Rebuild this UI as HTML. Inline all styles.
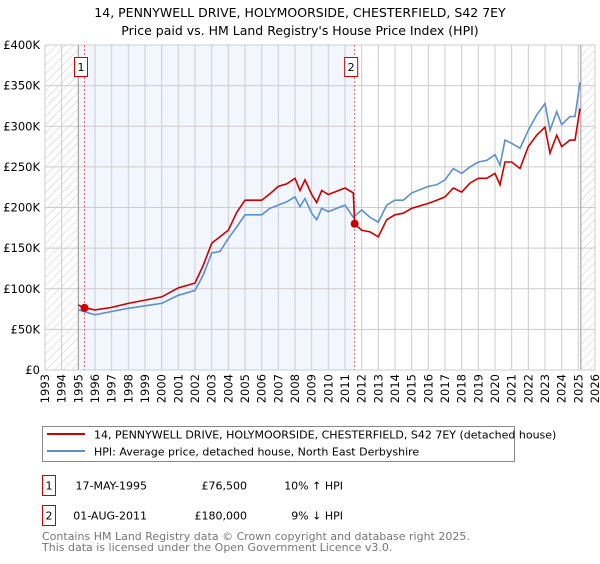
<!DOCTYPE html>
<html><head><meta charset="utf-8"><style>
body{margin:0;background:#fff;font-family:"DejaVu Sans","Liberation Sans",sans-serif;}
svg text{font-family:"DejaVu Sans","Liberation Sans",sans-serif;}
</style></head><body>
<svg id="chart" width="600" height="560" xmlns="http://www.w3.org/2000/svg">
<defs><pattern id="hatch" width="6" height="6" patternUnits="userSpaceOnUse" patternTransform="rotate(45)"><line x1="0" y1="0" x2="0" y2="6" stroke="#ccc" stroke-width="1"/></pattern></defs>
<text x="300" y="17" text-anchor="middle" font-size="12.5" fill="#000">14, PENNYWELL DRIVE, HOLYMOORSIDE, CHESTERFIELD, S42 7EY</text>
<text x="300" y="35" text-anchor="middle" font-size="12.5" fill="#000">Price paid vs. HM Land Registry's House Price Index (HPI)</text>
<g id="plot"></g>
<g>
<rect x="42.5" y="426.5" width="472" height="35" fill="#fff" stroke="#888"/>
<line x1="47" y1="434" x2="85" y2="434" stroke="#cc0000" stroke-width="2"/>
<text x="94" y="438.5" font-size="11">14, PENNYWELL DRIVE, HOLYMOORSIDE, CHESTERFIELD, S42 7EY (detached house)</text>
<line x1="47" y1="451" x2="85" y2="451" stroke="#5b8fd0" stroke-width="2"/>
<text x="94" y="455.5" font-size="11">HPI: Average price, detached house, North East Derbyshire</text>
</g>
<g font-size="11">
<rect x="42.5" y="475.5" width="13" height="20" fill="#fff" stroke="#cc0000"/>
<text x="49" y="489.5" text-anchor="middle">1</text>
<text x="147" y="489.5" text-anchor="end">17-MAY-1995</text>
<text x="247" y="489.5" text-anchor="end">£76,500</text>
<text x="343" y="489.5" text-anchor="end">10% ↑ HPI</text>
<rect x="42.5" y="505.5" width="13" height="20" fill="#fff" stroke="#cc0000"/>
<text x="49" y="519.5" text-anchor="middle">2</text>
<text x="147" y="519.5" text-anchor="end">01-AUG-2011</text>
<text x="247" y="519.5" text-anchor="end">£180,000</text>
<text x="343" y="519.5" text-anchor="end">9% ↓ HPI</text>
</g>
<text x="42" y="540" font-size="11" fill="#777">Contains HM Land Registry data © Crown copyright and database right 2025.</text>
<text x="42" y="551" font-size="11" fill="#777">This data is licensed under the Open Government Licence v3.0.</text>
</svg>
<script>
const hpiYears=[1995,1996,1997,1998,1999,2000,2001,2002,2002.5,2003,2003.5,2004,2004.5,2005,2006,2006.5,2007,2007.5,2008,2008.3,2008.6,2009,2009.3,2009.6,2010,2011,2011.5,2012,2012.5,2013,2013.5,2014,2014.5,2015,2016,2016.5,2017,2017.5,2018,2018.5,2019,2019.5,2020,2020.3,2020.6,2021,2021.5,2022,2022.5,2023,2023.3,2023.7,2024,2024.5,2024.8,2025.1];
const hpiValues=[74,68,72,76,79,82,92,98,117,144,146,162,176,191,191,199,203,207,213,201,211,193,185,199,195,203,188,197,188,182,203,209,209,218,226,228,234,248,242,250,256,258,265,252,283,279,273,295,314,328,295,318,302,312,312,354];
const propYears=[1995,1995.37,1996,1997,1998,1999,2000,2001,2002,2002.5,2003,2003.5,2004,2004.5,2005,2006,2006.5,2007,2007.5,2008,2008.3,2008.6,2009,2009.3,2009.6,2010,2011,2011.5,2011.58,2012,2012.5,2013,2013.5,2014,2014.5,2015,2016,2016.5,2017,2017.5,2018,2018.5,2019,2019.5,2020,2020.3,2020.6,2021,2021.5,2022,2022.5,2023,2023.3,2023.7,2024,2024.5,2024.8,2025.1];
const propValues=[80,76.5,74,77,82,86,90,101,107,129,156,164,172,194,209,209,217,226,229,236,221,234,216,206,221,216,224,218,180,172,170,164,185,191,193,199,205,209,213,224,219,230,236,236,242,228,256,256,248,275,289,299,267,289,275,283,283,322];
const yTicks=[0,50,100,150,200,250,300,350,400];
const xTicks=[1993,1994,1995,1996,1997,1998,1999,2000,2001,2002,2003,2004,2005,2006,2007,2008,2009,2010,2011,2012,2013,2014,2015,2016,2017,2018,2019,2020,2021,2022,2023,2024,2025,2026];
const sales=[{label:"1",year:1995.37,value:76.5},{label:"2",year:2011.58,value:180}];
const X0=45,X1=595,Y0=370,Y1=45;
const xs=y=>X0+(y-1993)/(2026-1993)*(X1-X0);
const ys=v=>Y0-v/400*(Y0-Y1);
const NS="http://www.w3.org/2000/svg";
const g=document.getElementById('plot');
function mk(t,a,p){const e=document.createElementNS(NS,t);for(const k in a)e.setAttribute(k,a[k]);(p||g).appendChild(e);return e;}
const bg=mk('rect',{x:X0,y:Y1,width:X1-X0,height:Y0-Y1,fill:'#fff'});


const sh=mk('rect',{x:xs(1995),y:Y1,width:xs(2011.58)-xs(1995),height:Y0-Y1,fill:'#f2f6fe'});


const h1=mk('rect',{x:X0,y:Y1,width:xs(1995)-X0,height:Y0-Y1,fill:'url(#hatch)'});


const h2=mk('rect',{x:xs(2025.15),y:Y1,width:X1-xs(2025.15),height:Y0-Y1,fill:'url(#hatch)'});


yTicks.forEach(v=>{
 const l=mk('line',{x1:X0,x2:X1,y1:ys(v),y2:ys(v),stroke:'#ccc','stroke-width':1});
 
 
 const t=mk('text',{x:40,y:ys(v)+4,'text-anchor':'end','font-size':11.5});
 t.textContent=v===0?'£0':'£'+v+'K';
 
 
});
xTicks.forEach(yr=>{
 const l=mk('line',{x1:xs(yr),x2:xs(yr),y1:Y1,y2:Y0,stroke:'#ccc','stroke-width':1});
 
 
 const tx=xs(yr)+4, ty=374;
 const t=mk('text',{x:tx,y:ty,'text-anchor':'end','font-size':11.5,transform:'rotate(-90 '+tx+' '+ty+')'});
 t.textContent=yr;
 
 
});
[xs(1995),xs(2025.15)].forEach(x=>{const l=mk('line',{x1:x,x2:x,y1:Y1,y2:Y0,stroke:'#999','stroke-width':1});
 
 });
const fr=mk('rect',{x:X0,y:Y1,width:X1-X0,height:Y0-Y1,fill:'none',stroke:'#ccc'});


sales.forEach(s=>{
 const l=mk('line',{x1:xs(s.year),x2:xs(s.year),y1:Y1,y2:Y0,stroke:'#f06060','stroke-dasharray':'2,2','stroke-width':1});
 
 
 const r=mk('rect',{x:xs(s.year)-10,y:57.5,width:13,height:19,fill:'#fff',stroke:'#cc0000'});
 
 
 const t=mk('text',{x:xs(s.year)-3.5,y:71,'text-anchor':'middle','font-size':11});
 t.textContent=s.label;
 
 
});
const pts=(xa,va)=>xa.map((y,i)=>xs(y).toFixed(1)+','+ys(va[i]).toFixed(1)).join(' ');
const hl=mk('polyline',{points:pts(hpiYears,hpiValues),fill:'none',stroke:'#5b8fd0','stroke-width':1.6});


const pl=mk('polyline',{points:pts(propYears,propValues),fill:'none',stroke:'#cc0000','stroke-width':1.6});


sales.forEach(s=>{const c=mk('circle',{cx:xs(s.year),cy:ys(s.value),r:4,fill:'#cc0000'});
 
 });
</script>
</body></html>
